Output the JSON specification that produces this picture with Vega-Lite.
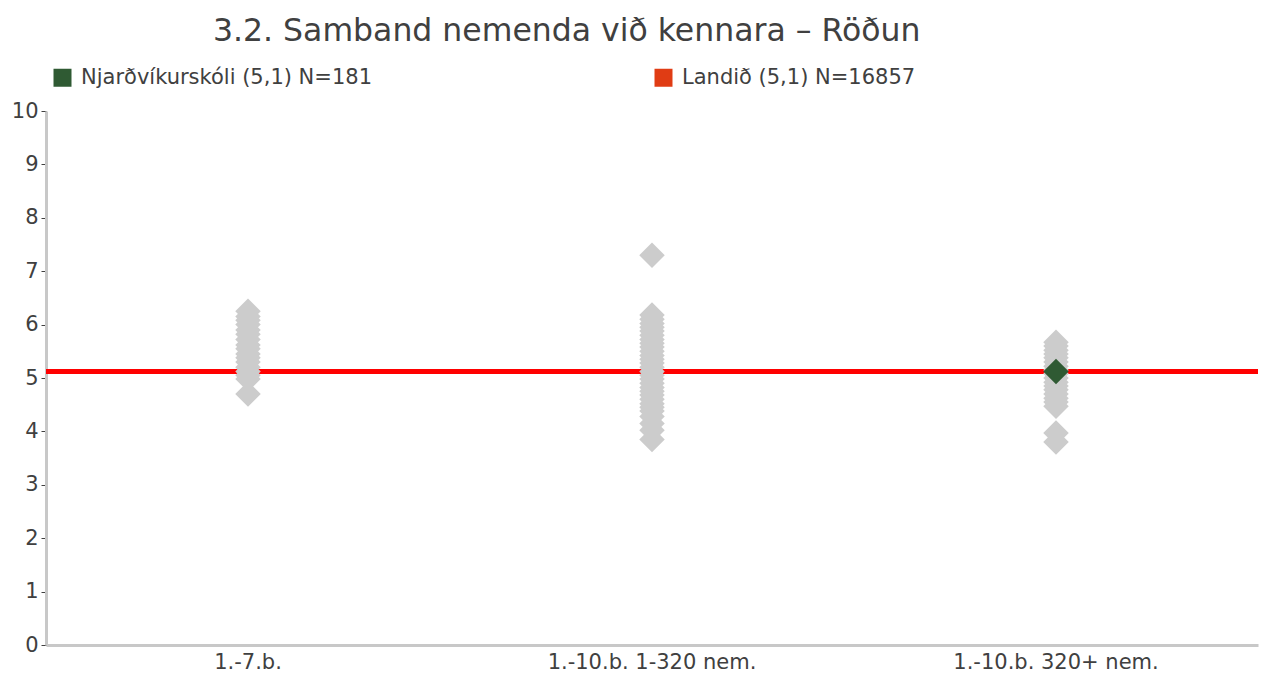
{
  "$schema": "https://vega.github.io/schema/vega-lite/v6.json",
  "width": 1212,
  "height": 534,
  "autosize": "none",
  "padding": {"left": 46, "top": 111, "right": 13, "bottom": 29},
  "background": "white",
  "config": {"view": {"stroke": null}, "font": "DejaVu Sans"},
  "title": {
    "text": "3.2. Samband nemenda við kennara – Röðun",
    "anchor": "start",
    "frame": "group",
    "dx": 167,
    "fontSize": 31.5,
    "fontWeight": "normal",
    "color": "#404040",
    "offset": 20
  },
  "datasets": {
    "schools": [
      {"category": "1.-7.b.", "value": 6.25},
      {"category": "1.-7.b.", "value": 6.15},
      {"category": "1.-7.b.", "value": 6.08},
      {"category": "1.-7.b.", "value": 6.0},
      {"category": "1.-7.b.", "value": 5.9},
      {"category": "1.-7.b.", "value": 5.82},
      {"category": "1.-7.b.", "value": 5.72},
      {"category": "1.-7.b.", "value": 5.62},
      {"category": "1.-7.b.", "value": 5.55},
      {"category": "1.-7.b.", "value": 5.45},
      {"category": "1.-7.b.", "value": 5.38},
      {"category": "1.-7.b.", "value": 5.3},
      {"category": "1.-7.b.", "value": 5.2},
      {"category": "1.-7.b.", "value": 5.12},
      {"category": "1.-7.b.", "value": 5.05},
      {"category": "1.-7.b.", "value": 4.98},
      {"category": "1.-7.b.", "value": 4.7},
      {"category": "1.-10.b. 1-320 nem.", "value": 7.3},
      {"category": "1.-10.b. 1-320 nem.", "value": 6.18},
      {"category": "1.-10.b. 1-320 nem.", "value": 6.1},
      {"category": "1.-10.b. 1-320 nem.", "value": 6.02},
      {"category": "1.-10.b. 1-320 nem.", "value": 5.95},
      {"category": "1.-10.b. 1-320 nem.", "value": 5.88},
      {"category": "1.-10.b. 1-320 nem.", "value": 5.8},
      {"category": "1.-10.b. 1-320 nem.", "value": 5.72},
      {"category": "1.-10.b. 1-320 nem.", "value": 5.65},
      {"category": "1.-10.b. 1-320 nem.", "value": 5.58},
      {"category": "1.-10.b. 1-320 nem.", "value": 5.5},
      {"category": "1.-10.b. 1-320 nem.", "value": 5.42},
      {"category": "1.-10.b. 1-320 nem.", "value": 5.35},
      {"category": "1.-10.b. 1-320 nem.", "value": 5.28},
      {"category": "1.-10.b. 1-320 nem.", "value": 5.2},
      {"category": "1.-10.b. 1-320 nem.", "value": 5.12},
      {"category": "1.-10.b. 1-320 nem.", "value": 5.05},
      {"category": "1.-10.b. 1-320 nem.", "value": 4.98},
      {"category": "1.-10.b. 1-320 nem.", "value": 4.9},
      {"category": "1.-10.b. 1-320 nem.", "value": 4.82},
      {"category": "1.-10.b. 1-320 nem.", "value": 4.75},
      {"category": "1.-10.b. 1-320 nem.", "value": 4.68},
      {"category": "1.-10.b. 1-320 nem.", "value": 4.6},
      {"category": "1.-10.b. 1-320 nem.", "value": 4.52},
      {"category": "1.-10.b. 1-320 nem.", "value": 4.45},
      {"category": "1.-10.b. 1-320 nem.", "value": 4.38},
      {"category": "1.-10.b. 1-320 nem.", "value": 4.28},
      {"category": "1.-10.b. 1-320 nem.", "value": 4.15},
      {"category": "1.-10.b. 1-320 nem.", "value": 4.02},
      {"category": "1.-10.b. 1-320 nem.", "value": 3.85},
      {"category": "1.-10.b. 320+ nem.", "value": 5.67},
      {"category": "1.-10.b. 320+ nem.", "value": 5.6},
      {"category": "1.-10.b. 320+ nem.", "value": 5.52},
      {"category": "1.-10.b. 320+ nem.", "value": 5.45},
      {"category": "1.-10.b. 320+ nem.", "value": 5.38},
      {"category": "1.-10.b. 320+ nem.", "value": 5.3},
      {"category": "1.-10.b. 320+ nem.", "value": 5.22},
      {"category": "1.-10.b. 320+ nem.", "value": 5.15},
      {"category": "1.-10.b. 320+ nem.", "value": 5.08},
      {"category": "1.-10.b. 320+ nem.", "value": 5.0},
      {"category": "1.-10.b. 320+ nem.", "value": 4.92},
      {"category": "1.-10.b. 320+ nem.", "value": 4.85},
      {"category": "1.-10.b. 320+ nem.", "value": 4.78},
      {"category": "1.-10.b. 320+ nem.", "value": 4.7},
      {"category": "1.-10.b. 320+ nem.", "value": 4.62},
      {"category": "1.-10.b. 320+ nem.", "value": 4.55},
      {"category": "1.-10.b. 320+ nem.", "value": 4.47},
      {"category": "1.-10.b. 320+ nem.", "value": 3.97},
      {"category": "1.-10.b. 320+ nem.", "value": 3.8}
    ],
    "landid": [{"value": 5.12}],
    "school": [{"category": "1.-10.b. 320+ nem.", "value": 5.12, "series": "Njarðvíkurskóli (5,1) N=181"}]
  },
  "layer": [
    {
      "data": {"name": "landid"},
      "mark": {"type": "rule", "color": "#ff0000", "strokeWidth": 5},
      "encoding": {
        "y": {
          "field": "value",
          "type": "quantitative",
          "scale": {"domain": [0, 10], "nice": false},
          "axis": {
            "title": null,
            "grid": false,
            "values": [0, 1, 2, 3, 4, 5, 6, 7, 8, 9, 10],
            "labelFontSize": 21,
            "labelColor": "#404040",
            "labelPadding": 3,
            "tickSize": 5,
            "tickColor": "#404040",
            "tickWidth": 1,
            "domainColor": "#c8c8c8",
            "domainWidth": 3
          }
        }
      }
    },
    {
      "data": {"name": "schools"},
      "mark": {"type": "point", "shape": "diamond", "filled": true, "size": 650, "color": "#cccccc", "opacity": 1},
      "encoding": {
        "x": {
          "field": "category",
          "type": "nominal",
          "sort": null,
          "scale": {"type": "band", "domain": ["1.-7.b.", "1.-10.b. 1-320 nem.", "1.-10.b. 320+ nem."], "paddingInner": 0, "paddingOuter": 0},
          "axis": {
            "title": null,
            "labelAngle": 0,
            "ticks": false,
            "grid": false,
            "labelFontSize": 21,
            "labelLimit": 0,
            "labelColor": "#404040",
            "labelPadding": 6,
            "domainColor": "#c8c8c8",
            "domainWidth": 3
          }
        },
        "y": {"field": "value", "type": "quantitative"}
      }
    },
    {
      "data": {"name": "school"},
      "mark": {"type": "point", "shape": "diamond", "filled": true, "size": 650, "opacity": 1},
      "encoding": {
        "x": {"field": "category", "type": "nominal", "sort": null},
        "y": {"field": "value", "type": "quantitative"},
        "color": {
          "field": "series",
          "type": "nominal",
          "scale": {"domain": ["Njarðvíkurskóli (5,1) N=181", "Landið (5,1) N=16857"], "range": ["#2f5a33", "#e03c14"]},
          "legend": {
            "orient": "none",
            "legendX": 6,
            "legendY": -44,
            "direction": "horizontal",
            "columns": 2,
            "columnPadding": 280,
            "symbolType": "square",
            "symbolSize": 324,
            "symbolStrokeWidth": 0,
            "labelFontSize": 21,
            "labelColor": "#404040",
            "labelOffset": 8,
            "labelLimit": 0,
            "title": null,
            "padding": 0
          }
        }
      }
    }
  ]
}
